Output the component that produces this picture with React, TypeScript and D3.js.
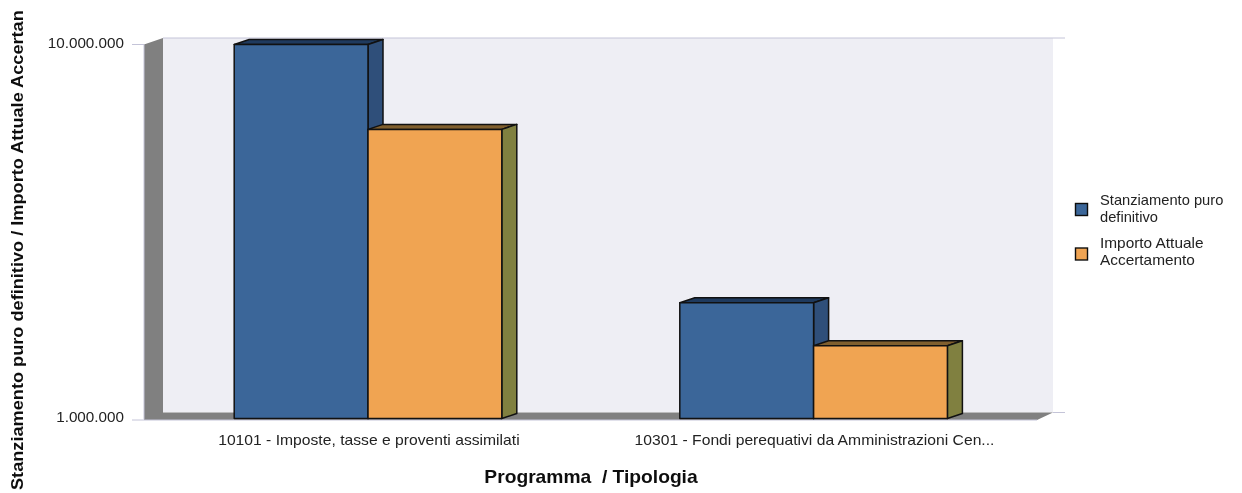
import React from "react";
import * as d3 from "d3";

const categories = ["10101 - Imposte, tasse e proventi assimilati", "10301 - Fondi perequativi da Amministrazioni Cen..."];
const seriesNames = ["Stanziamento puro definitivo", "Importo Attuale Accertamento"];
const stanziamento = [10000000, 2040000];
const accertamento = [5930000, 1565000];
const tickValues = [1000000, 10000000];
const tickLabels = ["1.000.000", "10.000.000"];
const legendLines = [["Stanziamento puro", "definitivo"], ["Importo Attuale", "Accertamento"]];
const xTitle = "Programma  / Tipologia";
const yTitle = "Stanziamento puro definitivo / Importo Attuale Accertan";

const seriesValues = [stanziamento, accertamento];
const palette = [
  { front: "#3b6699", side: "#2f4f7a", top: "#1f3a5e" },
  { front: "#f0a452", side: "#808040", top: "#805f2e" },
];

const W = 1242, H = 493;
const dx = 15, dy = 5;
const FONT = "'Liberation Sans', Arial, sans-serif";

export default function App() {
  const y = d3.scaleLog().domain([1000000, 10000000]).range([418.5, 44.5]);
  const x0 = d3.scaleBand<string>().domain(categories).range([145.6, 1036.8]);
  const x1 = d3.scaleBand<string>().domain(seriesNames).range([-134.2, 133.4]);
  const base = y(1000000);
  const top = y(10000000);

  return (
    <svg width={W} height={H} viewBox={`0 0 ${W} ${H}`} style={{ position: "absolute", left: 0, top: 0, background: "#fff" }}>
      <defs>
        <filter id="soft" x="-5%" y="-5%" width="110%" height="110%"><feGaussianBlur stdDeviation="0.4" /></filter>
      </defs>

      {/* wall */}
      <rect x={163} y={top - 6.5} width={890} height={base - top + 0.5} fill="#eeeef4" />
      {/* left wall and floor */}
      <path d={`M144,${top} L163,${top - 6.5} L163,${base - 6} L1053,${base - 6} L1037,${base + 1.5} L144,${base + 1.5} Z`} fill="#808080" />
      {/* axis lines */}
      <line x1={163} x2={1065} y1={top - 6.5} y2={top - 6.5} stroke="#c4c4d8" strokeWidth={1} />
      <line x1={1053} x2={1065} y1={base - 6} y2={base - 6} stroke="#c4c4d8" strokeWidth={1} />
      <line x1={132} x2={1037} y1={base + 1.5} y2={base + 1.5} stroke="#c4c4d8" strokeWidth={1} />
      <line x1={132} x2={144} y1={top} y2={top} stroke="#c4c4d8" strokeWidth={1} />
      <line x1={144} x2={144} y1={top} y2={base + 1} stroke="#c4c4d8" strokeWidth={1} />

      {/* bars */}
      {categories.map((c, i) =>
        seriesNames.map((s, j) => {
          const left = x0(c)! + x0.bandwidth() / 2 + x1(s)!;
          const w = x1.bandwidth();
          const t = y(seriesValues[j][i]);
          const right = left + w;
          return (
            <g key={s + c} stroke="#111" strokeWidth={1.5} strokeLinejoin="round">
              <path d={`M${left},${t} L${left + dx},${t - dy} L${right + dx},${t - dy} L${right},${t} Z`} fill={palette[j].top} />
              <path d={`M${right},${t} L${right + dx},${t - dy} L${right + dx},${base - dy} L${right},${base} Z`} fill={palette[j].side} />
              <rect x={left} y={t} width={w} height={base - t} fill={palette[j].front} />
            </g>
          );
        })
      )}

      <g fontFamily={FONT} fill="#222" filter="url(#soft)">
        {tickValues.map((v, i) => (
          <text key={v} transform={`translate(124,${y(v) + 3.5}) scale(1.09,1)`} fontSize={14} textAnchor="end">{tickLabels[i]}</text>
        ))}
        {categories.map((c) => (
          <text key={c} transform={`translate(${x0(c)! + x0.bandwidth() / 2 + 0.5},445) scale(1.12,1)`} fontSize={14} textAnchor="middle">{c}</text>
        ))}
        <text transform="translate(591,483) scale(1.1,1)" fontSize={17.5} fontWeight="bold" textAnchor="middle" fill="#111" xmlSpace="preserve">{xTitle}</text>
        <text transform="translate(23,490) rotate(-90) scale(1.135,1)" fontSize={16} fontWeight="bold" fill="#111">{yTitle}</text>
        {seriesNames.map((s, j) => (
          <g key={s}>
            <rect x={1075.5} y={203.5 + j * 44.5} width={12} height={12} fill={palette[j].front} stroke="#111" strokeWidth={1.4} />
            {legendLines[j].map((ln, k) => (
              <text key={ln} transform={`translate(1100,${204.5 + j * 43.5 + k * 17}) scale(${j === 0 ? 1.05 : 1.1},1)`} fontSize={14}>{ln}</text>
            ))}
          </g>
        ))}
      </g>
    </svg>
  );
}
